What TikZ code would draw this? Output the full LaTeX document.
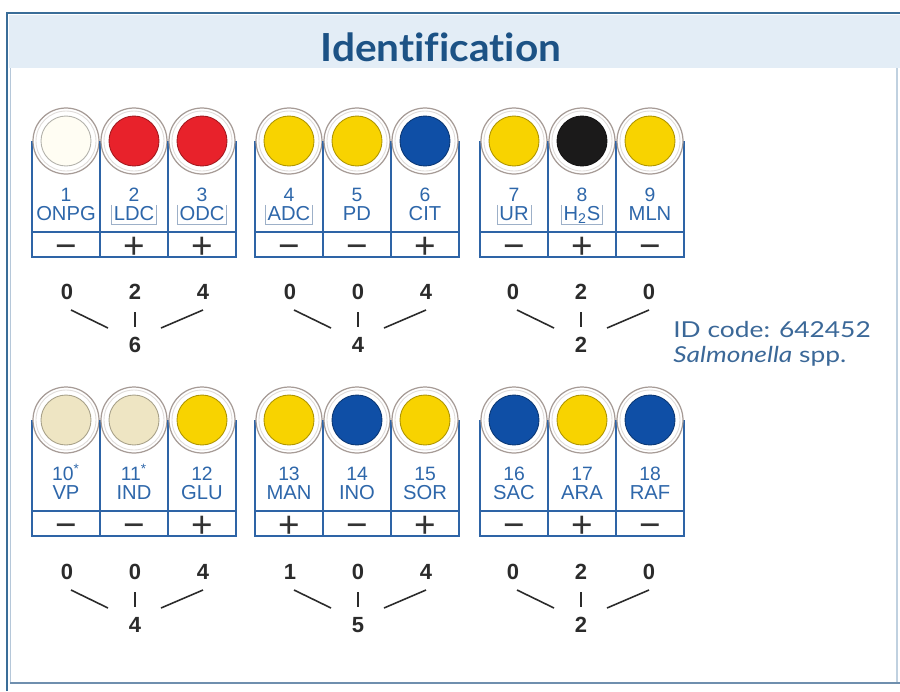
\documentclass[tikz,border=0pt]{standalone}
\usepackage{fontspec}
\setmainfont{Liberation Sans}
\newfontfamily\headfont[Ligatures=CommonOff, FakeStretch=1.05]{Lato}
\newfontfamily\resultfont[FakeStretch=1.2]{Lato}
\usetikzlibrary{calc}

\definecolor{frameblue}{HTML}{3A6D98}
\definecolor{framelight}{HTML}{6F8FAE}
\definecolor{bandblue}{HTML}{E3EDF6}
\definecolor{titleblue}{HTML}{1C5285}
\definecolor{wellline}{HTML}{2E64A6}
\definecolor{ringgray}{HTML}{A69B96}
\definecolor{labelblue}{HTML}{2E67AA}
\definecolor{idblue}{HTML}{3B6898}
\definecolor{wcream}{HTML}{FFFDF3}
\definecolor{wred}{HTML}{E8222B}
\definecolor{wyellow}{HTML}{F8D300}
\definecolor{wblue}{HTML}{0F4FA6}
\definecolor{wblack}{HTML}{1B1A1A}
\definecolor{wbeige}{HTML}{EEE5C3}
\definecolor{signgray}{HTML}{333333}
\definecolor{codegray}{HTML}{2B2B2B}
\definecolor{boxgray}{HTML}{9DB0C8}

% one cupule of the strip: #1 x, #2 y of the cupule centre, #3 number,
% #4 test name, #5 colour, #6 result sign, #7 node prefix
\newcommand\apiwell[7]{%
  \draw[colline] (#1-34,#2) -- (#1-34,#2+116) -- (#1+34,#2+116) -- (#1+34,#2);
  \draw[colline] (#1-34,#2+91) -- (#1+34,#2+91);
  \draw[ring] (#1,#2) circle[radius=0.66cm];
  \draw[ringinner] (#1,#2) circle[radius=0.6cm];
  \draw[cupule, fill=#5, draw=#5!70!black] (#1,#2) circle[radius=0.5cm];
  \node[numlabel] (#7n) at (#1,#2+60) {#3};
  \node[namelabel] (#7t) at (#1,#2+79) {#4};
  \node[signlabel] (#7s) at (#1,#2+117) {#6};
}
% open frame round a test name
\newcommand\framename[1]{%
  \draw[boxline] (#1.north west) -- (#1.south west) -- (#1.south east) -- (#1.north east);
}
% three code digits and their sum: #1 prefix, #2 x of first column, #3 y, #4-#6 digits, #7 sum
\newcommand\codetriple[7]{%
  \node[codedigit] (#1a) at (#2,#3) {#4};
  \node[codedigit] (#1b) at (#2+68,#3) {#5};
  \node[codedigit] (#1c) at (#2+136,#3) {#6};
  \node[codedigit] (#1s) at (#2+68,#3+53) {#7};
  \draw[codeline] ([shift={(4,18)}]#1a.center) -- ([shift={(-27,-17)}]#1s.center);
  \draw[codeline] ([shift={(0,20)}]#1b.center) -- ([shift={(0,-18)}]#1s.center);
  \draw[codeline] ([shift={(26,-17)}]#1s.center) -- ([shift={(0,18)}]#1c.center);
}

\begin{document}
\begin{tikzpicture}[x=0.02cm, y=-0.02cm,
  colline/.style={draw=wellline, line width=1.1pt},
  ring/.style={draw=ringgray, fill=white, line width=0.7pt},
  ringinner/.style={draw=ringgray!35, line width=0.5pt},
  cupule/.style={line width=0.5pt},
  numlabel/.style={anchor=base, inner sep=0pt, text=labelblue, font=\fontsize{11}{11}\selectfont},
  namelabel/.style={anchor=base, inner sep=1.2pt, text=labelblue, text height=0.72em, text depth=0.12em,
    font=\fontsize{11.5}{11.5}\selectfont},
  signlabel/.style={anchor=base, inner sep=0pt, text=signgray, font=\fontsize{21}{21}\selectfont},
  boxline/.style={draw=boxgray, line width=0.5pt},
  codedigit/.style={inner sep=0pt, text=codegray, font=\fontsize{12.5}{12.5}\selectfont\bfseries},
  codeline/.style={draw=codegray, line width=0.9pt},
]
\useasboundingbox (0,0) rectangle (900,691);
\fill[white] (0,0) rectangle (900,691);

% panel frame and heading band
\fill[bandblue] (9,15) rectangle (900,68);
\draw[framelight, line width=1.6pt] (10,683) -- (900,683);
\draw[bandblue!70!framelight, line width=0.8pt] (897,68) -- (897,682);
\draw[frameblue, line width=1.6pt] (7,691) -- (7,13) -- (900,13);
\draw[bandblue!60!framelight, line width=0.6pt] (10.5,68) -- (10.5,682);
\node[anchor=base, inner sep=0pt, text=titleblue, font=\headfont\bfseries\fontsize{22}{22}\selectfont]
  (title) at (441,61) {Identification};

% first strip
\apiwell{66}{141}{1}{ONPG}{wcream}{−}{w1}
\apiwell{134}{141}{2}{LDC}{wred}{+}{w2}
\apiwell{202}{141}{3}{ODC}{wred}{+}{w3}
\apiwell{289}{141}{4}{ADC}{wyellow}{−}{w4}
\apiwell{357}{141}{5}{PD}{wyellow}{−}{w5}
\apiwell{425}{141}{6}{CIT}{wblue}{+}{w6}
\apiwell{514}{141}{7}{UR}{wyellow}{−}{w7}
\apiwell{582}{141}{8}{H\textsubscript{2}S}{wblack}{+}{w8}
\apiwell{650}{141}{9}{MLN}{wyellow}{−}{w9}
\framename{w2t}
\framename{w3t}
\framename{w4t}
\framename{w7t}
\framename{w8t}

% second strip
\apiwell{66}{420}{10\textsuperscript{*}}{VP}{wbeige}{−}{w10}
\apiwell{134}{420}{11\textsuperscript{*}}{IND}{wbeige}{−}{w11}
\apiwell{202}{420}{12}{GLU}{wyellow}{+}{w12}
\apiwell{289}{420}{13}{MAN}{wyellow}{+}{w13}
\apiwell{357}{420}{14}{INO}{wblue}{−}{w14}
\apiwell{425}{420}{15}{SOR}{wyellow}{+}{w15}
\apiwell{514}{420}{16}{SAC}{wblue}{−}{w16}
\apiwell{582}{420}{17}{ARA}{wyellow}{+}{w17}
\apiwell{650}{420}{18}{RAF}{wblue}{−}{w18}

% octal code of each triplet
\codetriple{ca}{67}{292}{0}{2}{4}{6}
\codetriple{cb}{290}{292}{0}{0}{4}{4}
\codetriple{cc}{513}{292}{0}{2}{0}{2}
\codetriple{cd}{67}{572}{0}{0}{4}{4}
\codetriple{ce}{290}{572}{1}{0}{4}{5}
\codetriple{cf}{513}{572}{0}{2}{0}{2}

% result
\node[anchor=base west, inner sep=0pt, text=idblue, font=\resultfont\fontsize{12.5}{12.5}\selectfont]
  (idcode) at (673,337) {ID code: 642452};
\node[anchor=base west, inner sep=0pt, text=idblue, font=\resultfont\fontsize{12.5}{12.5}\selectfont]
  (species) at (673,362) {\textit{Salmonella} spp.};
\end{tikzpicture}
\end{document}
